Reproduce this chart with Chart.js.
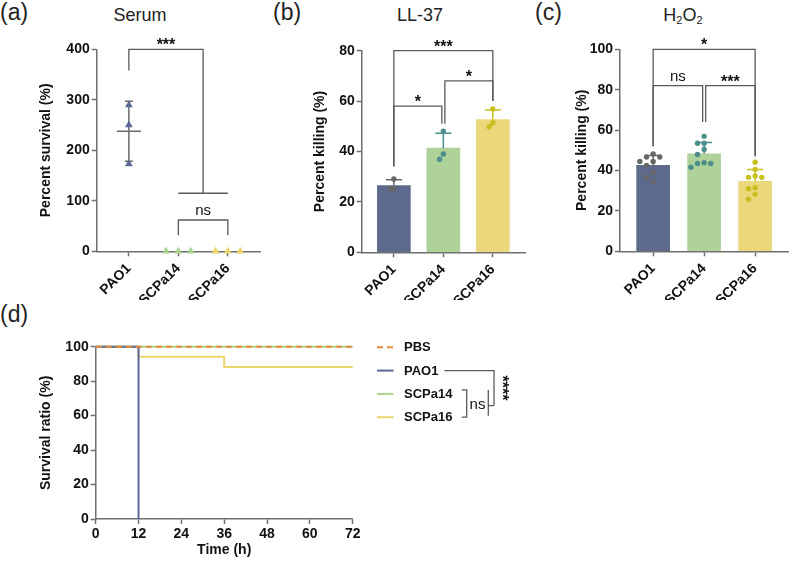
<!DOCTYPE html>
<html>
<head>
<meta charset="utf-8">
<script src="https://cdn.jsdelivr.net/npm/chart.js@4.4.0/dist/chart.umd.min.js"></script>
<style>
  body { margin: 0; width: 791px; height: 561px; position: relative; background: #fff; overflow: hidden;
         font-family: "Liberation Sans", Arial, sans-serif; color: #222; }
  canvas { position: absolute; }
  .lab { position: absolute; font-size: 23px; line-height: 23px; }
  .ttl { position: absolute; font-size: 18px; line-height: 18px; transform: translateX(-50%); white-space: nowrap; }
  .ttl sub { font-size: 11px; vertical-align: -3px; line-height: 0; }
</style>
</head>
<body>
<div class="lab" style="left:0;top:1px">(a)</div>
<div class="lab" style="left:273px;top:1px">(b)</div>
<div class="lab" style="left:535px;top:1px">(c)</div>
<div class="lab" style="left:0;top:303px">(d)</div>
<div class="ttl" style="left:140px;top:6px">Serum</div>
<div class="ttl" style="left:420px;top:6px">LL-37</div>
<div class="ttl" style="left:683px;top:6px">H<sub>2</sub>O<sub>2</sub></div>

<canvas id="chartA" width="265" height="270" style="left:0;top:30px"></canvas>
<canvas id="chartB" width="265" height="270" style="left:265px;top:30px"></canvas>
<canvas id="chartC" width="266" height="270" style="left:525px;top:30px"></canvas>
<canvas id="chartD" width="791" height="251" style="left:0;top:310px"></canvas>

<script>
// 균주 이름
var groupNames = ['PAO1', 'SCPa14', 'SCPa16'];

// (a) Serum - percent survival
var serumPAO1 = [289.7, 250.0, 172.9];
var serumSCPa14 = [0, 0, 0];
var serumSCPa16 = [0, 0, 0];
var serumTicks = [0, 100, 200, 300, 400];

// (b) LL-37 - percent killing
var ll37PAO1 = [29.1, 25.2, 25.2];
var ll37SCPa14 = [48.1, 39.0, 36.9];
var ll37SCPa16 = [56.9, 51.4, 49.8];
var ll37Ticks = [0, 20, 40, 60, 80];

// (c) H2O2 - percent killing
var h2o2PAO1 = [48.2, 46.7, 46.7, 44.5, 44.5, 42.5, 39.0, 36.5, 34.5];
var h2o2SCPa14 = [56.9, 53.5, 53.5, 50.4, 47.9, 43.8, 43.5, 43.5, 41.6];
var h2o2SCPa16 = [44.1, 40.5, 37.3, 36.6, 36.6, 31.5, 31.0, 28.2, 25.8];
var h2o2Ticks = [0, 20, 40, 60, 80, 100];

// (d) survival ratio over time
var survNames = ['PBS', 'PAO1', 'SCPa14', 'SCPa16'];
var pbsHours = [0, 72];
var pbsSurv = [100, 100];
var pao1Hours = [0, 12];
var pao1Surv = [100, 0];
var scpa14Hours = [0, 72];
var scpa14Surv = [100, 100];
var scpa16Hours = [0, 12, 36, 72];
var scpa16Surv = [100, 94.1, 88.2, 88.2];
var hourTicks = [0, 12, 24, 36, 48, 60, 72];
var survTicks = [0, 20, 40, 60, 80, 100];

// 유의성 표시 (x: 그룹 인덱스, y: 축 값)
var serumSig = [
    {x1: 0, x2: 1.5, y: 400, y1: 358, y2: 115, text: '***'},
    {x1: 1, x2: 2, y: 115, y1: 115, y2: 115, text: ''},
    {x1: 1, x2: 2, y: 62, y1: 32, y2: 32, text: 'ns'}
];
var ll37Sig = [
    {x1: 0, x2: 2, y: 80, y1: 34, y2: 60, text: '***'},
    {x1: 0, x2: 1, y: 58, y1: 34, y2: 51, text: '*', dx2: -1.5},
    {x1: 1, x2: 2, y: 68, y1: 51, y2: 60, text: '*', dx1: 1.5}
];
var h2o2Sig = [
    {x1: 0, x2: 2, y: 100, y1: 52, y2: 47, text: '*'},
    {x1: 0, x2: 1, y: 82, y1: 52, y2: 64, text: 'ns', dx2: -1.5},
    {x1: 1, x2: 2, y: 82, y1: 64, y2: 47, text: '***', dx1: 1.5}
];

var barColors = ['#5d6a8c', '#afd29b', '#ebd77c'];
var dotColors = ['#676767', '#4b8f8c', '#c6c11f'];
var triColors = ['#5a6a95', '#a8d38e', '#ecd56b'];
var lineColors = ['#ec8a3c', '#5b6896', '#a8d38e', '#ecd46e'];

var FONT = '"Liberation Sans", Arial, sans-serif';
var axisGray = '#6e6e6e';
Chart.defaults.font.family = FONT;
Chart.defaults.animation = false;

function mean(a) {
    return a.reduce(function (s, v) { return s + v; }, 0) / a.length;
}
function sd(a) {
    var m = mean(a);
    return Math.sqrt(a.reduce(function (s, v) { return s + (v - m) * (v - m); }, 0) / (a.length - 1));
}

// 값이 겹치는 점들을 좌우로 벌려줌
function swarm(vals, tol, step) {
    var placed = [];
    var out = [];
    var idx = vals.map(function (v, i) { return i; }).sort(function (a, b) { return vals[b] - vals[a]; });
    idx.forEach(function (i) {
        var cands = [0];
        for (var j = 1; j < 6; j++) cands.push(-j * step, j * step);
        var off = 0;
        for (var c = 0; c < cands.length; c++) {
            var clash = placed.some(function (p) {
                return Math.abs(p.v - vals[i]) < tol && Math.abs(p.o - cands[c]) < step * 0.9;
            });
            if (!clash) { off = cands[c]; break; }
        }
        placed.push({v: vals[i], o: off});
        out[i] = off;
    });
    return out;
}

function dots(values, gi, tol, step, color, style, radius) {
    var offs = swarm(values, tol, step);
    return {
        type: 'scatter',
        data: values.map(function (v, k) { return {x: gi + offs[k], y: v}; }),
        backgroundColor: color,
        borderColor: color,
        borderWidth: 0,
        pointStyle: style,
        pointRadius: radius,
        pointHoverRadius: radius,
        clip: false,
        order: 1
    };
}

function tickFont() {
    return {family: FONT, size: 14, weight: 'bold'};
}

function yAxis(ticks, title, width, titlePad) {
    return {
        type: 'linear',
        min: ticks[0],
        max: ticks[ticks.length - 1],
        afterBuildTicks: function (s) { s.ticks = ticks.map(function (v) { return {value: v}; }); },
        afterFit: function (s) { s.width = width; },
        border: {display: true, color: axisGray, width: 1.5},
        grid: {drawOnChartArea: false, drawTicks: true, tickLength: 5, tickColor: axisGray, tickWidth: 1.5},
        ticks: {color: '#111', font: tickFont(), padding: 2},
        title: {display: true, text: title, color: '#111', font: tickFont(), padding: {top: titlePad, bottom: 0}}
    };
}

function groupAxis(height) {
    return {
        type: 'linear',
        offset: false,
        min: -0.65,
        max: 2.65,
        afterBuildTicks: function (s) { s.ticks = groupNames.map(function (n, i) { return {value: i}; }); },
        afterFit: function (s) { s.height = height; },
        border: {display: true, color: axisGray, width: 1.5},
        grid: {offset: false, drawOnChartArea: false, drawTicks: true, tickLength: 5, tickColor: axisGray, tickWidth: 1.5},
        ticks: {
            autoSkip: false, minRotation: 45, maxRotation: 45, color: '#111', font: tickFont(), padding: 4,
            callback: function (v) { return groupNames[v]; }
        }
    };
}

// 에러바 그리기
function drawErr(chart, o) {
    var xs = chart.scales.x, ys = chart.scales.y, ctx = chart.ctx;
    ctx.save();
    ctx.lineWidth = 1.5;
    o.groups.forEach(function (vals, i) {
        var m = mean(vals), s = sd(vals);
        var x = xs.getPixelForValue(i);
        var yTop = ys.getPixelForValue(m + s);
        var yMid = ys.getPixelForValue(m);
        var yBot = o.both ? ys.getPixelForValue(m - s) : yMid;
        ctx.strokeStyle = o.colors ? o.colors[i] : o.color;
        ctx.beginPath();
        ctx.moveTo(x, yBot); ctx.lineTo(x, yTop);
        ctx.moveTo(x - o.cap / 2, yTop); ctx.lineTo(x + o.cap / 2, yTop);
        if (o.both) {
            ctx.moveTo(x - o.cap / 2, yBot); ctx.lineTo(x + o.cap / 2, yBot);
            ctx.moveTo(x - o.meanW / 2, yMid); ctx.lineTo(x + o.meanW / 2, yMid);
        }
        ctx.stroke();
    });
    ctx.restore();
}

var errPlugin = {
    id: 'errbars',
    beforeDatasetsDraw: function (chart, args, o) {
        if (o.groups && o.before) drawErr(chart, o);
    },
    afterDatasetDraw: function (chart, args, o) {
        if (o.groups && !o.before && args.index === 0) drawErr(chart, o);
    }
};

// 유의성 브라켓
var sigPlugin = {
    id: 'sig',
    afterDraw: function (chart, args, o) {
        if (!o.list) return;
        var xs = chart.scales.x, ys = chart.scales.y, ctx = chart.ctx;
        ctx.save();
        ctx.strokeStyle = '#5a5a5a';
        ctx.lineWidth = 1.3;
        ctx.fillStyle = '#111';
        o.list.forEach(function (b) {
            var xa = xs.getPixelForValue(b.x1) + (b.dx1 || 0);
            var xb = xs.getPixelForValue(b.x2) + (b.dx2 || 0);
            var y = ys.getPixelForValue(b.y);
            ctx.beginPath();
            ctx.moveTo(xa, ys.getPixelForValue(b.y1));
            ctx.lineTo(xa, y);
            ctx.lineTo(xb, y);
            ctx.lineTo(xb, ys.getPixelForValue(b.y2));
            ctx.stroke();
            if (b.text) {
                var star = b.text.charAt(0) === '*';
                ctx.font = star ? 'bold 16px ' + FONT : '15px ' + FONT;
                ctx.textAlign = 'center';
                ctx.textBaseline = 'alphabetic';
                ctx.fillText(b.text, (xa + xb) / 2, star ? y + 1 : y - 5);
            }
        });
        ctx.restore();
    }
};

Chart.register(errPlugin, sigPlugin);

// (a) Serum
new Chart(document.getElementById('chartA'), {
    type: 'scatter',
    data: {
        datasets: [
            dots(serumPAO1, 0, 10, 0.25, triColors[0], 'triangle', 4.5),
            dots(serumSCPa14, 1, 10, 0.25, triColors[1], 'triangle', 4.5),
            dots(serumSCPa16, 2, 10, 0.25, triColors[2], 'triangle', 4.5)
        ]
    },
    options: {
        responsive: false,
        devicePixelRatio: 1,
        layout: {padding: {left: 0, right: 5, top: 19.3, bottom: 0}},
        plugins: {
            legend: {display: false},
            tooltip: {enabled: false},
            errbars: {groups: [serumPAO1], both: true, before: true, color: '#6a6a6a', cap: 8, meanW: 24},
            sig: {list: serumSig}
        },
        scales: {
            x: groupAxis(48.7),
            y: yAxis(serumTicks, 'Percent survival (%)', 96.7, 38)
        }
    }
});

function killChart(id, groups, ticks, sig, tol, step, yWidth, titlePad, topPad, xHeight, rightPad) {
    return new Chart(document.getElementById(id), {
        type: 'bar',
        data: {
            datasets: [{
                type: 'bar',
                data: groups.map(function (g, i) { return {x: i, y: mean(g)}; }),
                backgroundColor: barColors,
                borderWidth: 0,
                barThickness: 33,
                order: 2
            }].concat(groups.map(function (g, i) {
                return dots(g, i, tol, step, dotColors[i], 'circle', 2.7);
            }))
        },
        options: {
            responsive: false,
            devicePixelRatio: 1,
            layout: {padding: {left: 0, right: rightPad, top: topPad, bottom: 0}},
            plugins: {
                legend: {display: false},
                tooltip: {enabled: false},
                errbars: {groups: groups, both: false, colors: dotColors, cap: 16},
                sig: {list: sig}
            },
            scales: {
                x: groupAxis(xHeight),
                y: yAxis(ticks, 'Percent killing (%)', yWidth, titlePad)
            }
        }
    });
}

// (b) LL-37
killChart('chartB', [ll37PAO1, ll37SCPa14, ll37SCPa16], ll37Ticks, ll37Sig, 2.2, 0.075, 96.7, 47, 20.7, 47.7, 5);
// (c) H2O2
killChart('chartC', [h2o2PAO1, h2o2SCPa14, h2o2SCPa16], h2o2Ticks, h2o2Sig, 2.6, 0.13, 95, 49, 19.3, 48.7, 1);

// (d) 범례 + 브라켓
var survLegend = {
    id: 'survLegend',
    afterDraw: function (chart) {
        var ctx = chart.ctx, area = chart.chartArea;
        var lx = area.right + 24.3, tx = area.right + 51.3;
        var rowY = function (i) { return area.top + 0.6 + i * 23.3; };
        ctx.save();
        ctx.font = 'bold 13px ' + FONT;
        ctx.textBaseline = 'middle';
        ctx.textAlign = 'left';
        chart.data.datasets.forEach(function (ds, i) {
            ctx.strokeStyle = ds.borderColor;
            ctx.lineWidth = 2;
            ctx.setLineDash(ds.borderDash || []);
            ctx.beginPath();
            ctx.moveTo(lx, rowY(i));
            ctx.lineTo(lx + 16.5, rowY(i));
            ctx.stroke();
            ctx.setLineDash([]);
            ctx.fillStyle = '#111';
            ctx.fillText(ds.label, tx, rowY(i) + 0.5);
        });
        var y1 = rowY(1), y2 = rowY(2), y3 = rowY(3), yM = (y2 + y3) / 2;
        var pEnd = tx + ctx.measureText(survNames[1]).width + 6;
        ctx.strokeStyle = '#5a5a5a';
        ctx.lineWidth = 1.3;
        ctx.beginPath();
        ctx.moveTo(pEnd, y1); ctx.lineTo(tx + 90, y1); ctx.lineTo(tx + 90, yM);
        ctx.moveTo(tx + 84.3, yM); ctx.lineTo(tx + 90, yM);
        ctx.moveTo(tx + 84.3, y2 - 4); ctx.lineTo(tx + 84.3, y3 - 1.5);
        ctx.moveTo(tx + 57.7, y2 - 4); ctx.lineTo(tx + 62.7, y2 - 4); ctx.lineTo(tx + 62.7, y3); ctx.lineTo(tx + 57.7, y3);
        ctx.stroke();
        ctx.font = '15px ' + FONT;
        ctx.textAlign = 'center';
        ctx.fillText('ns', tx + 73.5, yM - 1);
        ctx.translate(tx + 92.5, (y1 + yM) / 2);
        ctx.rotate(Math.PI / 2);
        ctx.font = 'bold 16px ' + FONT;
        ctx.textBaseline = 'alphabetic';
        ctx.fillText('****', 0, 0);
        ctx.restore();
    }
};

function steps(hours, surv) {
    return hours.map(function (h, i) { return {x: h, y: surv[i]}; });
}

function survSet(label, hours, surv, color, order, dash) {
    return {
        label: label,
        data: steps(hours, surv),
        borderColor: color,
        backgroundColor: color,
        borderWidth: 2,
        borderDash: dash,
        stepped: 'before',
        pointRadius: 0,
        fill: false,
        clip: false,
        order: order
    };
}

new Chart(document.getElementById('chartD'), {
    type: 'line',
    data: {
        datasets: [
            survSet(survNames[0], pbsHours, pbsSurv, lineColors[0], 1, [6, 4]),
            survSet(survNames[1], pao1Hours, pao1Surv, lineColors[1], 2, []),
            survSet(survNames[2], scpa14Hours, scpa14Surv, lineColors[2], 3, []),
            survSet(survNames[3], scpa16Hours, scpa16Surv, lineColors[3], 4, [])
        ]
    },
    options: {
        responsive: false,
        devicePixelRatio: 1,
        layout: {padding: {left: 0, right: 438.3, top: 36.7, bottom: 0}},
        plugins: {legend: {display: false}, tooltip: {enabled: false}},
        scales: {
            x: {
                type: 'linear',
                min: hourTicks[0],
                max: hourTicks[hourTicks.length - 1],
                afterBuildTicks: function (s) { s.ticks = hourTicks.map(function (v) { return {value: v}; }); },
                afterFit: function (s) { s.height = 42; },
                border: {display: true, color: axisGray, width: 1.5},
                grid: {drawOnChartArea: false, drawTicks: true, tickLength: 5, tickColor: axisGray, tickWidth: 1.5},
                ticks: {color: '#111', font: tickFont(), padding: 2, maxRotation: 0},
                title: {display: true, text: 'Time (h)', color: '#111', font: tickFont(), padding: {top: 0, bottom: 2}}
            },
            y: yAxis(survTicks, 'Survival ratio (%)', 95.7, 38)
        }
    },
    plugins: [survLegend]
});
</script>
</body>
</html>
